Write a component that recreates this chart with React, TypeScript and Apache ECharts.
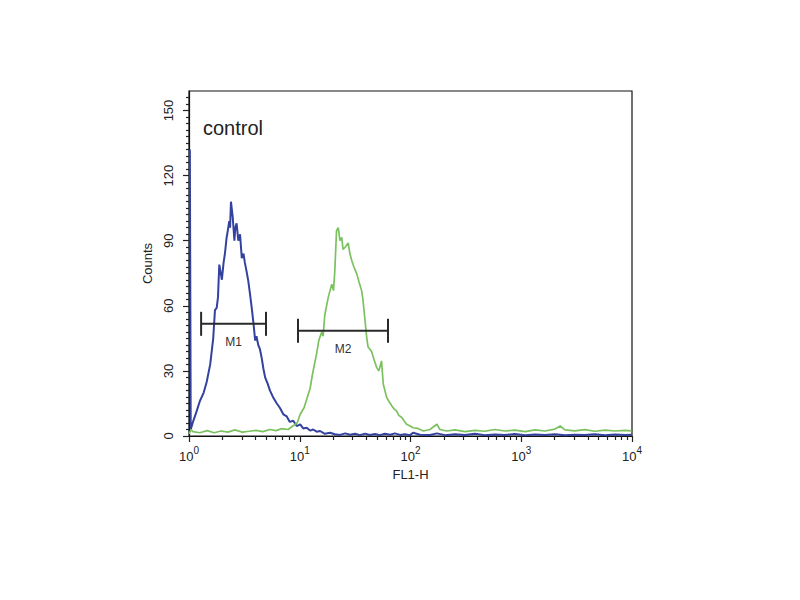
import React, { useEffect, useRef } from "react";
import * as echarts from "echarts";

// channel scale: 1024 channels over 4 log decades
const CH_PER_DECADE = 256;
const X_MAX = 1024;
const DECADES = [0, 1, 2, 3, 4];
const MINOR_MULT = [2, 3, 4, 5, 6, 7, 8, 9];

const Y_MAX = 159;
const Y_TICKS = [0, 30, 60, 90, 120, 150];
const Y_MINOR_STEP = 3;

// control (blue) histogram
const BLUE_CH = [
  2, 4, 10, 17, 25, 34, 41, 49, 56, 60, 64, 67, 70, 76, 80, 83, 87, 90, 93, 95,
  97, 101, 105, 107, 110, 114, 118, 122, 126, 129, 133, 137, 141, 145, 149, 153,
  156, 160, 164, 168, 172, 176, 182, 187, 194, 203, 210, 218, 226, 233, 241, 249,
  257, 264, 272, 280, 287, 295, 303, 314, 326, 337, 349, 361, 372, 384, 395, 407,
  418, 430, 441, 453, 465, 476, 488, 499, 511, 518, 534, 557, 573, 592, 615, 638,
  661, 684, 707, 730, 753, 777, 800, 823, 846, 869, 892, 915, 938, 962, 985, 1008,
  1023,
];
const BLUE_COUNTS = [
  132, 3, 7, 11, 16, 20, 25, 33, 45, 58, 59, 64, 79, 72, 80, 84, 91.5, 95, 99, 96,
  108, 101, 90, 96, 98, 90, 93, 82, 84, 80, 76, 71.5, 65.5, 59, 52, 44,
  46, 42, 40, 36, 31, 27, 24, 21, 18, 15, 13, 10, 9, 6.5, 7, 4.6,
  5.4, 3.5, 3.8, 2.5, 3, 2, 2.3, 1, 1.5, 0.8, 0.5, 1.2, 0.6, 1, 0.4, 1.1,
  0.5, 0.9, 0.4, 1, 0.6, 1.2, 0.5, 0.8, 0.4, 1.5, 0.6, 0.5, 1.2, 0.4, 0.8, 0.5,
  1, 0.4, 0.7, 0.5, 0.9, 0.4, 0.7, 0.5, 0.8, 0.4, 0.6, 0.5, 0.8, 0.4, 0.7, 0.5,
  0.6,
];

// stained (green) histogram
const GREEN_CH = [
  0, 5, 9, 25, 42, 58, 74, 90, 106, 123, 139, 155, 171, 187, 201, 215, 229, 240,
  250, 257, 266, 273, 280, 285, 295, 300, 307, 310, 314, 322, 330, 334, 337, 341,
  345, 349, 353, 356, 361, 368, 372, 376, 381, 388, 393, 399, 402, 407, 411, 414,
  422, 428, 434, 439, 445, 449, 457, 462, 469, 474, 480, 485, 492, 497, 503, 511,
  518, 529, 542, 557, 573, 580, 596, 615, 638, 661, 684, 707, 730, 753, 777, 800,
  823, 846, 858, 869, 892, 915, 938, 962, 985, 1008, 1023,
];
const GREEN_COUNTS = [
  1, 3, 2, 1.5, 2.5, 1.5, 2.3, 1.8, 2.8, 1.8, 2.2, 2.6, 2, 3, 2.5, 3.4, 3, 4.6,
  6, 10, 13, 17.5, 22, 28, 38, 44, 48, 46, 56, 64, 70, 67, 76, 94.6,
  96, 90, 91.5, 86, 87, 89, 84, 81, 78, 74.6, 71, 67, 63, 53, 45, 41,
  39, 35, 31.5, 30, 34.6, 24, 17.7, 16, 13.8, 12.5, 11.5, 9.5, 8.5, 7, 5.4, 4.6,
  3.8, 3.5, 2.3, 3, 5.4, 3, 2.3, 2.8, 2, 2.6, 2.2, 3, 2.3, 2.7, 2, 2.8,
  2.3, 3.2, 4.6, 2.8, 2.4, 2.9, 2.2, 2.7, 2.3, 2.6, 2.4,
];

// marker gates: [start channel, end channel, count level]
const GATE_NAMES = ["M1", "M2"];
const GATE_START = [28, 252];
const GATE_END = [178, 460];
const GATE_LEVEL = [51.7, 48.5];

const FONT = "'Liberation Sans', Arial, sans-serif";

export default function App() {
  const chartRef = useRef<HTMLDivElement>(null);

  useEffect(() => {
    if (!chartRef.current) return;
    const chart = echarts.init(chartRef.current, undefined, { renderer: "svg" });

    const majorX = DECADES.map((d) => d * CH_PER_DECADE);
    const minorX: number[] = [];
    DECADES.slice(0, -1).forEach((d) => {
      MINOR_MULT.forEach((m) => minorX.push((d + Math.log10(m)) * CH_PER_DECADE));
    });
    const minorY: number[] = [];
    for (let v = Y_MINOR_STEP; v < Y_MAX; v += Y_MINOR_STEP) {
      if (!Y_TICKS.includes(v)) minorY.push(v);
    }

    const blue = BLUE_CH.map((c, i) => [c, BLUE_COUNTS[i]]);
    const green = GREEN_CH.map((c, i) => [c, GREEN_COUNTS[i]]);
    const gates = GATE_NAMES.map((_, i) => [GATE_START[i], GATE_END[i], GATE_LEVEL[i]]);

    const option: echarts.EChartsOption = {
      animation: false,
      backgroundColor: "#fff",
      grid: {
        left: 189,
        right: 168,
        top: 91,
        bottom: 164,
        show: true,
        borderColor: "#111",
        borderWidth: 1.2,
        backgroundColor: "transparent",
      },
      xAxis: [
        {
          type: "value",
          position: "bottom",
          min: 0,
          max: X_MAX,
          interval: CH_PER_DECADE,
          name: "FL1-H",
          nameLocation: "middle",
          nameGap: 30,
          nameTextStyle: { color: "#222", fontFamily: FONT, fontSize: 13 },
          axisLine: { lineStyle: { color: "#111", width: 1.2 } },
          axisTick: { show: true, length: 6, lineStyle: { color: "#222", width: 1.2 }, customValues: majorX },
          axisLabel: {
            margin: 9,
            customValues: majorX,
            formatter: (v: number) => `{b|10}{s|${Math.round(v / CH_PER_DECADE)}}`,
            rich: {
              b: { fontSize: 13, fontFamily: FONT, color: "#222", verticalAlign: "bottom", lineHeight: 18 },
              s: { fontSize: 10, fontFamily: FONT, color: "#222", verticalAlign: "top", lineHeight: 18 },
            },
          },
          splitLine: { show: false },
        },
        {
          type: "value",
          position: "bottom",
          min: 0,
          max: X_MAX,
          axisLine: { show: false },
          axisLabel: { show: false },
          axisTick: { show: true, length: 4, lineStyle: { color: "#222", width: 1.2 }, customValues: minorX },
          splitLine: { show: false },
        },
      ],
      yAxis: [
        {
          type: "value",
          position: "left",
          min: 0,
          max: Y_MAX,
          name: "Counts",
          nameLocation: "middle",
          nameGap: 31,
          nameTextStyle: { color: "#222", fontFamily: FONT, fontSize: 13 },
          axisLine: { show: true, lineStyle: { color: "#111", width: 1.2 } },
          axisTick: { show: true, length: 6, lineStyle: { color: "#222", width: 1.2 }, customValues: Y_TICKS },
          axisLabel: {
            rotate: 90,
            margin: 14,
            customValues: Y_TICKS,
            color: "#222",
            fontFamily: FONT,
            fontSize: 13,
          },
          splitLine: { show: false },
        },
        {
          type: "value",
          position: "left",
          min: 0,
          max: Y_MAX,
          axisLine: { show: false },
          axisLabel: { show: false },
          axisTick: { show: true, length: 3, lineStyle: { color: "#222", width: 1.2 }, customValues: minorY },
          splitLine: { show: false },
        },
      ],
      graphic: [
        {
          type: "text",
          left: 203,
          top: 118,
          style: { text: "control", fill: "#222", font: `20px ${FONT}` },
        },
      ],
      series: [
        {
          name: "control",
          type: "line",
          data: blue,
          showSymbol: false,
          clip: false,
          lineStyle: { color: "#33429e", width: 2 },
          z: 3,
        },
        {
          name: "stained",
          type: "line",
          data: green,
          showSymbol: false,
          lineStyle: { color: "#7cc160", width: 1.7 },
          z: 4,
        },
        {
          name: "gates",
          type: "custom",
          data: gates,
          encode: { x: [0, 1], y: 2 },
          z: 5,
          renderItem: (params: any, api: any) => {
            const lvl = api.value(2);
            const p1 = api.coord([api.value(0), lvl]);
            const p2 = api.coord([api.value(1), lvl]);
            const stroke = { stroke: "#2a2a2a", lineWidth: 2 };
            const cap = 12;
            return {
              type: "group",
              children: [
                { type: "line", shape: { x1: p1[0], y1: p1[1], x2: p2[0], y2: p2[1] }, style: stroke },
                { type: "line", shape: { x1: p1[0], y1: p1[1] - cap, x2: p1[0], y2: p1[1] + cap }, style: stroke },
                { type: "line", shape: { x1: p2[0], y1: p2[1] - cap, x2: p2[0], y2: p2[1] + cap }, style: stroke },
                {
                  type: "text",
                  x: (p1[0] + p2[0]) / 2,
                  y: p1[1] + 18,
                  style: {
                    text: GATE_NAMES[params.dataIndex],
                    fill: "#333",
                    font: `12px ${FONT}`,
                    align: "center",
                    verticalAlign: "middle",
                  },
                },
              ],
            };
          },
        },
      ],
    };

    chart.setOption(option);
    return () => chart.dispose();
  }, []);

  return (
    <div
      ref={chartRef}
      style={{ position: "fixed", left: 0, top: 0, width: 800, height: 600, background: "#fff" }}
    />
  );
}
